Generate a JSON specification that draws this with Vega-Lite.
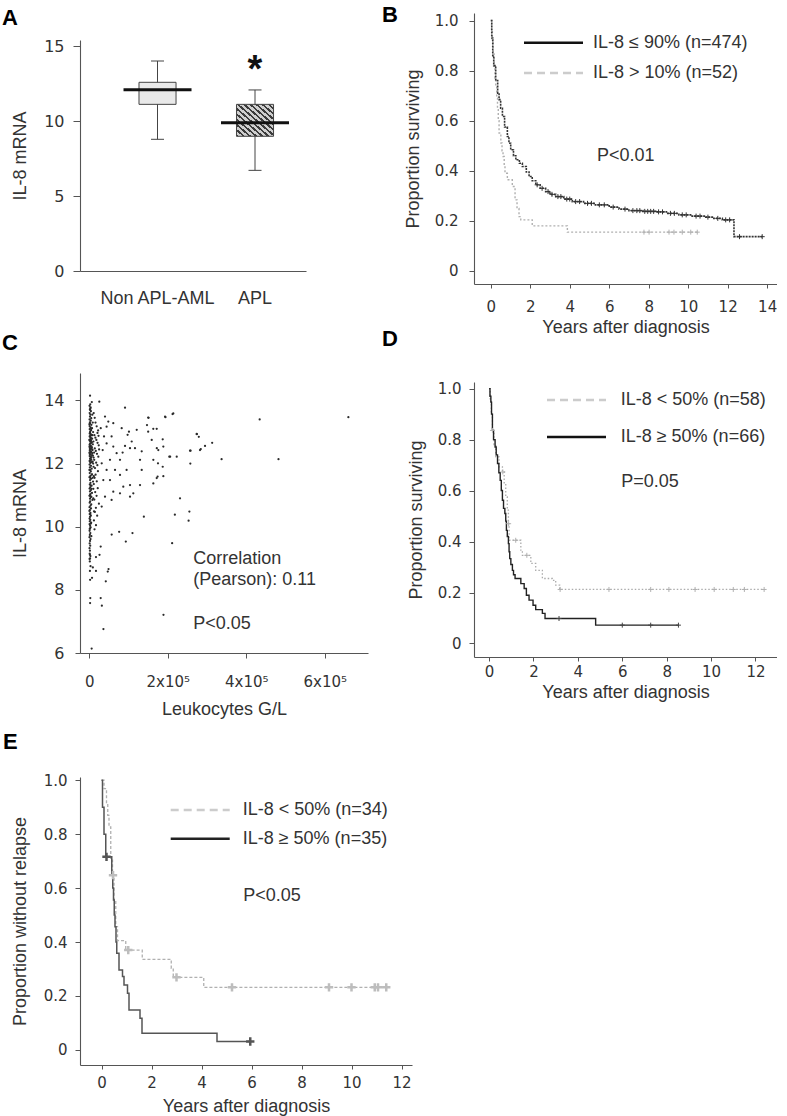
{
  "$schema": "https://vega.github.io/schema/vega-lite/v6.json",
  "background": "white",
  "padding": {"left": 2, "top": 0, "right": 0, "bottom": 0},
  "spacing": -30,
  "bounds": "full",
  "resolve": {"scale": {"color": "independent", "strokeDash": "independent"}, "legend": {"color": "independent", "strokeDash": "independent"}},
  "config": {
    "view": {"stroke": null},
    "axis": {"grid": false, "domainColor": "#555", "tickColor": "#555", "labelColor": "#333", "titleColor": "#333", "labelFont": "DejaVu Sans", "titleFont": "Liberation Sans", "titleFontWeight": "normal", "labelFontSize": 15, "titleFontSize": 18, "tickSize": 5, "domainWidth": 1.1},
    "legend": {"labelFont": "Liberation Sans", "labelColor": "#333", "labelFontSize": 18},
    "title": {"font": "Liberation Sans", "fontSize": 22, "fontWeight": "bold", "color": "#000", "anchor": "start", "frame": "group", "offset": 0}
  },
  "datasets": {
    "scatter": [
      {"wbc":1000,"il8":12.95},{"wbc":2500,"il8":12.88},{"wbc":4000,"il8":12.81},{"wbc":1500,"il8":12.76},{"wbc":3000,"il8":12.7},{"wbc":5500,"il8":12.66},{"wbc":800,"il8":12.6},{"wbc":2200,"il8":12.55},{"wbc":6500,"il8":12.52},{"wbc":3500,"il8":12.47},
      {"wbc":1200,"il8":12.42},{"wbc":4800,"il8":12.38},{"wbc":7500,"il8":12.33},{"wbc":2000,"il8":12.29},{"wbc":900,"il8":12.24},{"wbc":5200,"il8":12.2},{"wbc":3300,"il8":12.15},{"wbc":1700,"il8":12.1},{"wbc":8500,"il8":12.06},{"wbc":2700,"il8":12.02},
      {"wbc":600,"il8":11.97},{"wbc":4300,"il8":11.93},{"wbc":1400,"il8":11.88},{"wbc":6000,"il8":11.84},{"wbc":2400,"il8":11.79},{"wbc":3800,"il8":11.75},{"wbc":1100,"il8":11.7},{"wbc":7000,"il8":11.66},{"wbc":2900,"il8":11.61},{"wbc":500,"il8":11.57},
      {"wbc":4600,"il8":11.52},{"wbc":1900,"il8":11.48},{"wbc":9500,"il8":11.43},{"wbc":3100,"il8":11.39},{"wbc":1300,"il8":11.34},{"wbc":5800,"il8":11.3},{"wbc":2300,"il8":11.25},{"wbc":700,"il8":11.21},{"wbc":4100,"il8":11.16},{"wbc":1600,"il8":11.12},
      {"wbc":6800,"il8":11.07},{"wbc":2600,"il8":11.03},{"wbc":400,"il8":10.98},{"wbc":3600,"il8":10.94},{"wbc":1800,"il8":10.89},{"wbc":8000,"il8":10.85},{"wbc":2100,"il8":10.8},{"wbc":1000,"il8":10.76},{"wbc":5000,"il8":10.71},{"wbc":3000,"il8":10.67},
      {"wbc":600,"il8":10.62},{"wbc":4400,"il8":10.58},{"wbc":1500,"il8":10.53},{"wbc":12000,"il8":10.49},{"wbc":2800,"il8":10.44},{"wbc":900,"il8":10.4},{"wbc":3900,"il8":10.35},{"wbc":1700,"il8":10.31},{"wbc":600,"il8":10.26},{"wbc":2500,"il8":10.22},
      {"wbc":1200,"il8":10.17},{"wbc":4700,"il8":10.13},{"wbc":800,"il8":10.08},{"wbc":2000,"il8":10.03},{"wbc":3400,"il8":9.98},{"wbc":1100,"il8":9.93},{"wbc":700,"il8":9.87},{"wbc":2600,"il8":9.8},{"wbc":1400,"il8":9.74},{"wbc":500,"il8":9.67},
      {"wbc":3200,"il8":9.61},{"wbc":1900,"il8":9.55},{"wbc":900,"il8":9.47},{"wbc":2300,"il8":9.4},{"wbc":600,"il8":9.32},{"wbc":1600,"il8":9.24},{"wbc":1000,"il8":9.15},{"wbc":2800,"il8":9.07},{"wbc":700,"il8":8.98},{"wbc":1300,"il8":8.9},
      {"wbc":1800,"il8":12.98},{"wbc":3700,"il8":12.93},{"wbc":5900,"il8":12.9},{"wbc":900,"il8":12.86},{"wbc":2900,"il8":12.83},{"wbc":7200,"il8":12.79},{"wbc":4400,"il8":12.74},{"wbc":1300,"il8":12.72},{"wbc":6300,"il8":12.68},{"wbc":2100,"il8":12.64},
      {"wbc":9000,"il8":12.61},{"wbc":3900,"il8":12.57},{"wbc":500,"il8":12.54},{"wbc":5400,"il8":12.5},{"wbc":1600,"il8":12.46},{"wbc":8200,"il8":12.43},{"wbc":2600,"il8":12.39},{"wbc":4200,"il8":12.35},{"wbc":1000,"il8":12.31},{"wbc":6700,"il8":12.27},
      {"wbc":3200,"il8":12.23},{"wbc":11000,"il8":12.19},{"wbc":1900,"il8":12.16},{"wbc":5000,"il8":12.12},{"wbc":700,"il8":12.08},{"wbc":3500,"il8":12.04},{"wbc":9800,"il8":12.0},{"wbc":2300,"il8":13.02},{"wbc":4600,"il8":13.06},{"wbc":1100,"il8":13.09},
      {"wbc":6900,"il8":13.12},{"wbc":3100,"il8":13.15},{"wbc":800,"il8":13.19},{"wbc":5300,"il8":13.23},{"wbc":2000,"il8":13.27},{"wbc":1400,"il8":13.31},{"wbc":3600,"il8":13.36},{"wbc":700,"il8":13.4},{"wbc":4900,"il8":13.44},{"wbc":1700,"il8":13.49},
      {"wbc":2700,"il8":13.55},{"wbc":900,"il8":13.6},{"wbc":4100,"il8":13.66},{"wbc":1500,"il8":13.72},{"wbc":3300,"il8":13.78},{"wbc":600,"il8":13.83},{"wbc":2400,"il8":13.88},{"wbc":1900,"il8":14.15},{"wbc":2100,"il8":13.7},{"wbc":2800,"il8":13.75},
      {"wbc":13000,"il8":12.9},{"wbc":15500,"il8":12.82},{"wbc":18000,"il8":12.75},{"wbc":21000,"il8":12.66},{"wbc":24000,"il8":12.58},{"wbc":14000,"il8":12.48},{"wbc":16500,"il8":12.4},{"wbc":19500,"il8":12.31},{"wbc":23000,"il8":12.22},{"wbc":12500,"il8":12.12},
      {"wbc":17500,"il8":12.03},{"wbc":20500,"il8":11.95},{"wbc":14500,"il8":11.86},{"wbc":22000,"il8":11.76},{"wbc":16000,"il8":11.65},{"wbc":13500,"il8":11.55},{"wbc":19000,"il8":11.44},{"wbc":11500,"il8":11.35},{"wbc":21500,"il8":11.22},{"wbc":15000,"il8":11.1},
      {"wbc":18500,"il8":10.98},{"wbc":12800,"il8":10.86},{"wbc":24500,"il8":10.73},{"wbc":16800,"il8":10.6},{"wbc":14200,"il8":10.47},{"wbc":20000,"il8":10.35},{"wbc":11800,"il8":10.2},{"wbc":17000,"il8":10.05},{"wbc":13300,"il8":9.92},{"wbc":22500,"il8":13.05},
      {"wbc":18800,"il8":13.18},{"wbc":15800,"il8":13.3},{"wbc":13800,"il8":13.45},{"wbc":20800,"il8":12.97},{"wbc":23500,"il8":12.88},{"wbc":11200,"il8":13.6},{"wbc":25000,"il8":12.45},{"wbc":10500,"il8":12.7},{"wbc":12200,"il8":12.35},{"wbc":10800,"il8":11.9},
      {"wbc":11600,"il8":11.6},{"wbc":10300,"il8":11.2},{"wbc":10000,"il8":10.9},{"wbc":9700,"il8":13.0},{"wbc":8800,"il8":13.3},{"wbc":7800,"il8":12.9},{"wbc":7300,"il8":12.45},{"wbc":6600,"il8":12.05},{"wbc":6200,"il8":11.65},{"wbc":5600,"il8":11.2},
      {"wbc":5100,"il8":10.95},{"wbc":8700,"il8":11.55},{"wbc":9200,"il8":12.25},{"wbc":7700,"il8":13.55},{"wbc":6400,"il8":13.95},{"wbc":4500,"il8":13.1},{"wbc":3800,"il8":12.2},{"wbc":2200,"il8":11.55},{"wbc":1200,"il8":12.5},{"wbc":300,"il8":12.35},
      {"wbc":300,"il8":11.8},{"wbc":200,"il8":12.75},{"wbc":350,"il8":10.5},{"wbc":250,"il8":13.25},{"wbc":1800,"il8":11.0},{"wbc":2500,"il8":10.4},{"wbc":3400,"il8":11.3},{"wbc":4000,"il8":10.1},{"wbc":2000,"il8":9.95},{"wbc":5200,"il8":9.7},
      {"wbc":3100,"il8":8.75},{"wbc":1600,"il8":8.6},
      {"wbc":91000,"il8":13.77},{"wbc":25500,"il8":13.96},{"wbc":48400,"il8":13.33},{"wbc":61100,"il8":13.28},{"wbc":82500,"il8":13.12},{"wbc":101000,"il8":13.01},{"wbc":120800,"il8":13.07},{"wbc":150000,"il8":13.46},{"wbc":171700,"il8":13.1},{"wbc":193000,"il8":13.49},
      {"wbc":214000,"il8":13.59},{"wbc":273600,"il8":12.94},{"wbc":282000,"il8":12.43},{"wbc":294800,"il8":12.56},{"wbc":256600,"il8":12.41},{"wbc":257400,"il8":12.0},{"wbc":222700,"il8":12.22},{"wbc":203800,"il8":12.22},{"wbc":188600,"il8":12.54},{"wbc":175800,"il8":12.43},
      {"wbc":175000,"il8":12.01},{"wbc":187000,"il8":11.9},{"wbc":188600,"il8":11.6},{"wbc":163100,"il8":12.12},{"wbc":159000,"il8":12.75},{"wbc":150000,"il8":13.01},{"wbc":133500,"il8":12.39},{"wbc":129200,"il8":12.12},{"wbc":116400,"il8":12.49},{"wbc":103700,"il8":12.49},
      {"wbc":108000,"il8":12.7},{"wbc":97600,"il8":12.91},{"wbc":91000,"il8":12.56},{"wbc":84900,"il8":12.35},{"wbc":78200,"il8":12.12},{"wbc":69600,"il8":12.33},{"wbc":61100,"il8":12.54},{"wbc":56800,"il8":12.86},{"wbc":44100,"il8":12.64},{"wbc":52700,"il8":12.12},
      {"wbc":65500,"il8":11.8},{"wbc":78200,"il8":11.64},{"wbc":95000,"il8":11.8},{"wbc":86600,"il8":11.27},{"wbc":103700,"il8":11.32},{"wbc":129200,"il8":11.32},{"wbc":133500,"il8":11.8},{"wbc":171700,"il8":11.54},{"wbc":163100,"il8":11.37},{"wbc":78200,"il8":11.06},
      {"wbc":61100,"il8":11.11},{"wbc":52700,"il8":11.48},{"wbc":44100,"il8":11.8},{"wbc":35700,"il8":11.48},{"wbc":40000,"il8":10.95},{"wbc":56800,"il8":10.85},{"wbc":103700,"il8":10.95},{"wbc":112100,"il8":11.06},{"wbc":231100,"il8":10.9},{"wbc":31600,"il8":12.01},
      {"wbc":34100,"il8":12.43},{"wbc":37500,"il8":12.86},{"wbc":44100,"il8":13.17},{"wbc":29100,"il8":13.12},{"wbc":40000,"il8":13.49},{"wbc":31600,"il8":10.64},
      {"wbc":660000,"il8":13.47},{"wbc":434000,"il8":13.4},{"wbc":482000,"il8":12.14},{"wbc":337000,"il8":12.14},{"wbc":313000,"il8":12.66},{"wbc":284000,"il8":12.46},{"wbc":274000,"il8":12.93},{"wbc":279000,"il8":12.85},{"wbc":258000,"il8":12.41},{"wbc":212000,"il8":13.57},
      {"wbc":194000,"il8":13.47},{"wbc":255000,"il8":10.48},{"wbc":253000,"il8":10.19},{"wbc":218000,"il8":10.38},{"wbc":211000,"il8":9.48},{"wbc":189000,"il8":7.21},{"wbc":151000,"il8":13.45},{"wbc":163000,"il8":13.1},{"wbc":147000,"il8":13.22},{"wbc":187000,"il8":12.77},
      {"wbc":206000,"il8":12.22},{"wbc":172000,"il8":12.49},{"wbc":174000,"il8":11.59},{"wbc":139000,"il8":10.32},{"wbc":93000,"il8":9.53},{"wbc":110000,"il8":9.8},{"wbc":76000,"il8":9.84},
      {"wbc":6000,"il8":6.14},{"wbc":36000,"il8":6.76},{"wbc":2000,"il8":7.58},{"wbc":2500,"il8":7.74},{"wbc":29000,"il8":7.74},{"wbc":32000,"il8":7.5},{"wbc":42000,"il8":8.27},{"wbc":2000,"il8":8.32},{"wbc":7000,"il8":8.38},{"wbc":47000,"il8":8.58},
      {"wbc":49000,"il8":8.66},{"wbc":9000,"il8":8.71},{"wbc":17000,"il8":8.6},{"wbc":2000,"il8":9.0},{"wbc":1500,"il8":9.11},{"wbc":17000,"il8":9.04},{"wbc":26000,"il8":9.11},{"wbc":29000,"il8":9.37},{"wbc":57000,"il8":9.75}
    ],
    "b_dark": [
      {"t":0,"s":1},{"t":0.05,"s":0.93},{"t":0.1,"s":0.86},{"t":0.15,"s":0.82},{"t":0.25,"s":0.76},{"t":0.35,"s":0.71},{"t":0.42,"s":0.684},{"t":0.5,"s":0.65},{"t":0.59,"s":0.617},{"t":0.7,"s":0.575},
      {"t":0.84,"s":0.537},{"t":0.92,"s":0.51},{"t":1.01,"s":0.484},{"t":1.15,"s":0.46},{"t":1.27,"s":0.444},{"t":1.45,"s":0.43},{"t":1.6,"s":0.417},{"t":1.8,"s":0.395},{"t":1.94,"s":0.377},{"t":2.1,"s":0.36},
      {"t":2.28,"s":0.344},{"t":2.5,"s":0.33},{"t":2.78,"s":0.317},{"t":3.0,"s":0.306},{"t":3.29,"s":0.297},{"t":3.7,"s":0.287},{"t":4.13,"s":0.277},{"t":4.7,"s":0.27},{"t":5.3,"s":0.264},{"t":6.0,"s":0.255},
      {"t":6.5,"s":0.247},{"t":7.0,"s":0.241},{"t":7.7,"s":0.238},{"t":8.35,"s":0.236},{"t":8.9,"s":0.23},{"t":9.53,"s":0.224},{"t":10.2,"s":0.219},{"t":10.89,"s":0.215},{"t":11.3,"s":0.21},{"t":11.73,"s":0.204},
      {"t":12.32,"s":0.137},{"t":13.75,"s":0.137}
    ],
    "b_light": [
      {"t":0,"s":1},{"t":0.04,"s":0.96},{"t":0.08,"s":0.924},{"t":0.12,"s":0.87},{"t":0.17,"s":0.817},{"t":0.21,"s":0.77},{"t":0.25,"s":0.737},{"t":0.3,"s":0.69},{"t":0.34,"s":0.644},{"t":0.38,"s":0.6},
      {"t":0.42,"s":0.551},{"t":0.51,"s":0.511},{"t":0.57,"s":0.48},{"t":0.62,"s":0.457},{"t":0.68,"s":0.42},{"t":0.72,"s":0.39},{"t":0.84,"s":0.364},{"t":1.09,"s":0.337},{"t":1.23,"s":0.284},{"t":1.33,"s":0.25},
      {"t":1.43,"s":0.217},{"t":1.52,"s":0.204},{"t":2.1,"s":0.18},{"t":3.88,"s":0.155},{"t":10.46,"s":0.155}
    ],
    "b_cens_d": [
      {"t":2.35,"s":0.344},{"t":2.6,"s":0.33},{"t":2.9,"s":0.317},{"t":3.1,"s":0.306},{"t":3.4,"s":0.297},{"t":3.55,"s":0.297},{"t":3.85,"s":0.287},{"t":4.0,"s":0.287},{"t":4.3,"s":0.277},{"t":4.5,"s":0.277},
      {"t":4.9,"s":0.27},{"t":5.1,"s":0.27},{"t":5.5,"s":0.264},{"t":5.75,"s":0.264},{"t":6.2,"s":0.255},{"t":6.8,"s":0.247},{"t":7.2,"s":0.241},{"t":7.4,"s":0.241},{"t":7.55,"s":0.241},{"t":7.8,"s":0.238},
      {"t":7.95,"s":0.238},{"t":8.1,"s":0.238},{"t":8.25,"s":0.238},{"t":8.5,"s":0.236},{"t":8.7,"s":0.236},{"t":9.1,"s":0.23},{"t":9.3,"s":0.23},{"t":9.7,"s":0.224},{"t":9.9,"s":0.224},{"t":10.4,"s":0.219},
      {"t":10.6,"s":0.219},{"t":11.0,"s":0.215},{"t":11.5,"s":0.21},{"t":11.9,"s":0.204},{"t":12.1,"s":0.204},{"t":12.6,"s":0.137},{"t":13.75,"s":0.137}
    ],
    "b_cens_l": [
      {"t":7.76,"s":0.155},{"t":8.02,"s":0.155},{"t":9.03,"s":0.155},{"t":9.28,"s":0.155},{"t":9.7,"s":0.155},{"t":10.13,"s":0.155},{"t":10.46,"s":0.155}
    ],
    "d_dark": [
      {"t":0,"s":1},{"t":0.04,"s":0.97},{"t":0.08,"s":0.947},{"t":0.11,"s":0.9},{"t":0.15,"s":0.836},{"t":0.2,"s":0.8},{"t":0.27,"s":0.771},{"t":0.32,"s":0.74},{"t":0.38,"s":0.706},{"t":0.44,"s":0.67},
      {"t":0.5,"s":0.64},{"t":0.55,"s":0.6},{"t":0.6,"s":0.562},{"t":0.65,"s":0.53},{"t":0.71,"s":0.51},{"t":0.75,"s":0.48},{"t":0.78,"s":0.444},{"t":0.82,"s":0.42},{"t":0.87,"s":0.392},{"t":0.9,"s":0.36},
      {"t":0.93,"s":0.333},{"t":0.98,"s":0.31},{"t":1.05,"s":0.287},{"t":1.1,"s":0.27},{"t":1.17,"s":0.255},{"t":1.43,"s":0.235},{"t":1.58,"s":0.216},{"t":1.68,"s":0.189},{"t":1.8,"s":0.17},{"t":1.98,"s":0.15},
      {"t":2.1,"s":0.133},{"t":2.4,"s":0.118},{"t":2.52,"s":0.098},{"t":4.8,"s":0.072},{"t":8.53,"s":0.072}
    ],
    "d_light": [
      {"t":0,"s":1},{"t":0.05,"s":0.95},{"t":0.1,"s":0.9},{"t":0.15,"s":0.836},{"t":0.22,"s":0.78},{"t":0.3,"s":0.732},{"t":0.45,"s":0.693},{"t":0.6,"s":0.673},{"t":0.68,"s":0.627},{"t":0.75,"s":0.575},
      {"t":0.82,"s":0.523},{"t":0.87,"s":0.47},{"t":0.9,"s":0.405},{"t":1.43,"s":0.366},{"t":1.5,"s":0.346},{"t":1.88,"s":0.314},{"t":2.1,"s":0.287},{"t":2.4,"s":0.255},{"t":2.85,"s":0.248},{"t":3.0,"s":0.229},
      {"t":3.18,"s":0.212},{"t":12.39,"s":0.212}
    ],
    "d_cens_d": [
      {"t":3.15,"s":0.098},{"t":6.0,"s":0.072},{"t":7.28,"s":0.072},{"t":8.53,"s":0.072}
    ],
    "d_cens_l": [
      {"t":0.15,"s":0.836},{"t":0.62,"s":0.673},{"t":0.88,"s":0.47},{"t":1.2,"s":0.405},{"t":1.7,"s":0.346},{"t":3.2,"s":0.212},{"t":5.4,"s":0.212},{"t":7.28,"s":0.212},{"t":8.1,"s":0.212},{"t":9.28,"s":0.212},
      {"t":10.14,"s":0.212},{"t":11.0,"s":0.212},{"t":11.5,"s":0.212},{"t":12.39,"s":0.212}
    ],
    "e_dark": [
      {"t":0,"s":1},{"t":0.04,"s":0.9},{"t":0.1,"s":0.8},{"t":0.17,"s":0.716},{"t":0.41,"s":0.654},{"t":0.45,"s":0.6},{"t":0.48,"s":0.556},{"t":0.51,"s":0.5},{"t":0.54,"s":0.457},{"t":0.58,"s":0.4},
      {"t":0.61,"s":0.358},{"t":0.7,"s":0.296},{"t":0.84,"s":0.272},{"t":0.9,"s":0.241},{"t":1.04,"s":0.21},{"t":1.1,"s":0.148},{"t":1.54,"s":0.117},{"t":1.62,"s":0.062},{"t":4.62,"s":0.031},{"t":5.95,"s":0.031}
    ],
    "e_light": [
      {"t":0,"s":1},{"t":0.1,"s":0.969},{"t":0.2,"s":0.914},{"t":0.25,"s":0.87},{"t":0.3,"s":0.827},{"t":0.37,"s":0.704},{"t":0.44,"s":0.648},{"t":0.5,"s":0.556},{"t":0.57,"s":0.457},{"t":0.64,"s":0.405},
      {"t":0.97,"s":0.37},{"t":1.63,"s":0.336},{"t":2.79,"s":0.302},{"t":2.87,"s":0.269},{"t":4.09,"s":0.232},{"t":11.39,"s":0.232}
    ],
    "e_cens_d": [
      {"t":0.2,"s":0.716},{"t":5.95,"s":0.031}
    ],
    "e_cens_l": [
      {"t":0.46,"s":0.648},{"t":1.07,"s":0.37},{"t":3.0,"s":0.269},{"t":5.22,"s":0.232},{"t":9.1,"s":0.232},{"t":10.0,"s":0.232},{"t":10.93,"s":0.232},{"t":11.06,"s":0.232},{"t":11.39,"s":0.232}
    ]
  },
  "hconcat": [
    {
      "spacing": 0,
      "bounds": "flush",
      "resolve": {"scale": {"color": "independent", "strokeDash": "independent"}, "legend": {"color": "independent", "strokeDash": "independent"}},
      "vconcat": [
        {"width": 1, "height": 40, "data": {"values": []}, "mark": {"type": "point", "opacity": 0}},
        {
          "title": {"text": "A", "dx": -78, "dy": -4},
          "width": 226, "height": 231,
          "data": {"values": [
            {"grp": "Non APL-AML", "lo": 8.78, "q1": 11.11, "med": 12.09, "q3": 12.58, "hi": 14.0},
            {"grp": "APL", "lo": 6.71, "q1": 8.98, "med": 9.89, "q3": 11.11, "hi": 12.07}
          ]},
          "encoding": {
            "x": {"field": "grp", "type": "nominal", "sort": null,
              "scale": {"domain": ["Non APL-AML", "APL"], "paddingInner": 0.62, "paddingOuter": 0.469, "align": 0.645},
              "axis": {"title": null, "ticks": false, "tickSize": 0, "labelAngle": 0, "labelFont": "Liberation Sans", "labelFontSize": 18, "labelPadding": 18, "labelDx": 8}}
          },
          "layer": [
            {"mark": {"type": "rule", "color": "#444", "strokeWidth": 1},
             "encoding": {
               "y": {"field": "lo", "type": "quantitative", "title": "IL-8 mRNA", "scale": {"domain": [0, 15.4], "nice": false},
                 "axis": {"values": [0, 5, 10, 15], "tickSize": 7, "labelPadding": 9, "labelFontSize": 16, "titlePadding": 14}},
               "y2": {"field": "hi"}}},
            {"mark": {"type": "tick", "color": "#444", "size": 13, "thickness": 1, "opacity": 1},
             "encoding": {"y": {"field": "lo", "type": "quantitative", "title": "IL-8 mRNA"}}},
            {"mark": {"type": "tick", "color": "#444", "size": 13, "thickness": 1, "opacity": 1},
             "encoding": {"y": {"field": "hi", "type": "quantitative", "title": "IL-8 mRNA"}}},
            {"transform": [{"filter": "datum.grp === 'Non APL-AML'"}],
             "mark": {"type": "bar", "fill": "#e9e9e9", "stroke": "#444", "strokeWidth": 1, "opacity": 1},
             "encoding": {"y": {"field": "q1", "type": "quantitative", "title": "IL-8 mRNA"}, "y2": {"field": "q3"}}},
            {"transform": [{"filter": "datum.grp === 'APL'"}],
             "mark": {"type": "bar", "stroke": "#444", "strokeWidth": 1, "opacity": 1,
               "fill": {"gradient": "linear", "x1": 0, "y1": 1, "x2": 1, "y2": 0, "stops": [
                 {"offset": 0, "color": "#3c3c3c"}, {"offset": 0.035, "color": "#3c3c3c"}, {"offset": 0.035, "color": "#cfcfcf"}, {"offset": 0.083, "color": "#cfcfcf"},
                 {"offset": 0.083, "color": "#3c3c3c"}, {"offset": 0.118, "color": "#3c3c3c"}, {"offset": 0.118, "color": "#cfcfcf"}, {"offset": 0.167, "color": "#cfcfcf"},
                 {"offset": 0.167, "color": "#3c3c3c"}, {"offset": 0.202, "color": "#3c3c3c"}, {"offset": 0.202, "color": "#cfcfcf"}, {"offset": 0.25, "color": "#cfcfcf"},
                 {"offset": 0.25, "color": "#3c3c3c"}, {"offset": 0.285, "color": "#3c3c3c"}, {"offset": 0.285, "color": "#cfcfcf"}, {"offset": 0.333, "color": "#cfcfcf"},
                 {"offset": 0.333, "color": "#3c3c3c"}, {"offset": 0.368, "color": "#3c3c3c"}, {"offset": 0.368, "color": "#cfcfcf"}, {"offset": 0.417, "color": "#cfcfcf"},
                 {"offset": 0.417, "color": "#3c3c3c"}, {"offset": 0.452, "color": "#3c3c3c"}, {"offset": 0.452, "color": "#cfcfcf"}, {"offset": 0.5, "color": "#cfcfcf"},
                 {"offset": 0.5, "color": "#3c3c3c"}, {"offset": 0.535, "color": "#3c3c3c"}, {"offset": 0.535, "color": "#cfcfcf"}, {"offset": 0.583, "color": "#cfcfcf"},
                 {"offset": 0.583, "color": "#3c3c3c"}, {"offset": 0.618, "color": "#3c3c3c"}, {"offset": 0.618, "color": "#cfcfcf"}, {"offset": 0.667, "color": "#cfcfcf"},
                 {"offset": 0.667, "color": "#3c3c3c"}, {"offset": 0.702, "color": "#3c3c3c"}, {"offset": 0.702, "color": "#cfcfcf"}, {"offset": 0.75, "color": "#cfcfcf"},
                 {"offset": 0.75, "color": "#3c3c3c"}, {"offset": 0.785, "color": "#3c3c3c"}, {"offset": 0.785, "color": "#cfcfcf"}, {"offset": 0.833, "color": "#cfcfcf"},
                 {"offset": 0.833, "color": "#3c3c3c"}, {"offset": 0.868, "color": "#3c3c3c"}, {"offset": 0.868, "color": "#cfcfcf"}, {"offset": 0.917, "color": "#cfcfcf"},
                 {"offset": 0.917, "color": "#3c3c3c"}, {"offset": 0.952, "color": "#3c3c3c"}, {"offset": 0.952, "color": "#cfcfcf"}, {"offset": 1, "color": "#cfcfcf"}
               ]}},
             "encoding": {"y": {"field": "q1", "type": "quantitative", "title": "IL-8 mRNA"}, "y2": {"field": "q3"}}},
            {"mark": {"type": "tick", "color": "#111", "size": 68, "thickness": 3, "opacity": 1},
             "encoding": {"y": {"field": "med", "type": "quantitative", "title": "IL-8 mRNA"}}},
            {"data": {"values": [{"label": "*"}]},
             "mark": {"type": "text", "font": "Liberation Sans", "fontSize": 38, "fontWeight": "bold", "color": "#111", "baseline": "alphabetic", "align": "center"},
             "encoding": {"x": {"datum": "APL"}, "y": {"datum": 12.6}, "text": {"field": "label"}}}
          ]
        },
        {"width": 1, "height": 102, "data": {"values": []}, "mark": {"type": "point", "opacity": 0}},
        {
          "title": {"text": "C", "dx": -78, "dy": -14},
          "width": 288, "height": 280,
          "layer": [
            {"data": {"name": "scatter"},
             "mark": {"type": "circle", "size": 5, "color": "#2a2a2a", "opacity": 1},
             "encoding": {
               "x": {"field": "wbc", "type": "quantitative", "title": "Leukocytes G/L", "scale": {"domain": [-23700, 710000], "nice": false, "zero": false},
                 "axis": {"values": [0, 200000, 400000, 600000], "labelExpr": "datum.value == 0 ? '0' : (datum.value / 100000) + 'x10⁵'", "tickSize": 5, "labelPadding": 16.5, "titlePadding": 11}},
               "y": {"field": "il8", "type": "quantitative", "title": "IL-8 mRNA", "scale": {"domain": [6, 14.87], "nice": false, "zero": false},
                 "axis": {"values": [6, 8, 10, 12, 14], "tickSize": 5, "labelPadding": 11, "labelFontSize": 16, "titlePadding": 14}}
             }},
            {"data": {"values": [{"label": ["Correlation", "(Pearson): 0.11"]}]},
             "mark": {"type": "text", "font": "Liberation Sans", "fontSize": 18, "lineHeight": 21.6, "color": "#333", "align": "left", "baseline": "middle"},
             "encoding": {"x": {"datum": 265000}, "y": {"datum": 8.99}, "text": {"field": "label"}}},
            {"data": {"values": [{"label": "P<0.05"}]},
             "mark": {"type": "text", "font": "Liberation Sans", "fontSize": 18, "color": "#333", "align": "left", "baseline": "middle"},
             "encoding": {"x": {"datum": 265000}, "y": {"datum": 6.93}, "text": {"field": "label"}}}
          ]
        },
        {"width": 1, "height": 124, "data": {"values": []}, "mark": {"type": "point", "opacity": 0}},
        {
          "title": {"text": "E", "dx": -77, "dy": -15.2},
          "width": 332, "height": 288,
          "layer": [
            {"data": {"name": "e_light"},
             "mark": {"type": "line", "interpolate": "step-after", "strokeWidth": 1.3, "color": "#b0b0b0", "strokeDash": [3, 2]},
             "encoding": {
               "x": {"field": "t", "type": "quantitative", "title": "Years after diagnosis", "scale": {"domain": [-0.86, 12.42], "nice": false, "zero": false},
                 "axis": {"values": [0, 2, 4, 6, 8, 10, 12], "tickSize": 4, "labelPadding": 6.3, "titlePadding": 7}},
               "y": {"field": "s", "type": "quantitative", "title": "Proportion without relapse", "scale": {"domain": [-0.056, 1.012], "nice": false, "zero": false},
                 "axis": {"values": [0, 0.2, 0.4, 0.6, 0.8, 1], "labelExpr": "datum.value == 0 ? '0' : format(datum.value, '.1f')", "tickSize": 5, "labelPadding": 8, "titlePadding": 14}}
             }},
            {"data": {"name": "e_dark"},
             "mark": {"type": "line", "interpolate": "step-after", "strokeWidth": 1.5, "color": "#555555"},
             "encoding": {"x": {"field": "t", "type": "quantitative", "title": "Years after diagnosis"}, "y": {"field": "s", "type": "quantitative", "title": "Proportion without relapse"}}},
            {"data": {"name": "e_cens_d"},
             "mark": {"type": "point", "shape": "M-1,0H1M0,-1V1", "size": 70, "stroke": "#555", "strokeWidth": 2.5, "filled": false, "opacity": 1},
             "encoding": {"x": {"field": "t", "type": "quantitative", "title": "Years after diagnosis"}, "y": {"field": "s", "type": "quantitative", "title": "Proportion without relapse"}}},
            {"data": {"name": "e_cens_l"},
             "mark": {"type": "point", "shape": "M-1,0H1M0,-1V1", "size": 70, "stroke": "#bdbdbd", "strokeWidth": 2.5, "filled": false, "opacity": 1},
             "encoding": {"x": {"field": "t", "type": "quantitative", "title": "Years after diagnosis"}, "y": {"field": "s", "type": "quantitative", "title": "Proportion without relapse"}}},
            {"data": {"values": []},
             "mark": {"type": "line"},
             "encoding": {
               "x": {"field": "t", "type": "quantitative", "title": "Years after diagnosis"}, "y": {"field": "s", "type": "quantitative", "title": "Proportion without relapse"},
               "color": {"field": "g", "type": "nominal", "scale": {"domain": ["IL-8 < 50% (n=34)", "IL-8 ≥ 50% (n=35)"], "range": ["#cccccc", "#222222"]},
                 "legend": {"title": null, "orient": "none", "legendX": 89.2, "legendY": 25, "padding": 0, "symbolType": "stroke", "symbolSize": 3481, "symbolStrokeWidth": 2.5, "clipHeight": 16, "rowPadding": 10.7, "labelOffset": 11.5}},
               "strokeDash": {"field": "g", "type": "nominal", "scale": {"domain": ["IL-8 < 50% (n=34)", "IL-8 ≥ 50% (n=35)"], "range": [[8, 5], [1, 0]]},
                 "legend": {"title": null, "orient": "none", "legendX": 89.2, "legendY": 25, "padding": 0, "symbolType": "stroke", "symbolSize": 3481, "symbolStrokeWidth": 2.5, "clipHeight": 16, "rowPadding": 10.7, "labelOffset": 11.5}}
             }},
            {"data": {"values": [{"label": "P<0.05"}]},
             "mark": {"type": "text", "font": "Liberation Sans", "fontSize": 18, "color": "#333", "align": "left", "baseline": "middle"},
             "encoding": {"x": {"datum": 5.67}, "y": {"datum": 0.571}, "text": {"field": "label"}}}
          ]
        }
      ]
    },
    {
      "spacing": 0,
      "bounds": "flush",
      "resolve": {"scale": {"color": "independent", "strokeDash": "independent"}, "legend": {"color": "independent", "strokeDash": "independent"}},
      "vconcat": [
        {"width": 1, "height": 13, "data": {"values": []}, "mark": {"type": "point", "opacity": 0}},
        {
          "title": {"text": "B", "dx": -92, "dy": 18},
          "width": 303, "height": 271,
          "layer": [
            {"data": {"name": "b_light"},
             "mark": {"type": "line", "interpolate": "step-after", "strokeWidth": 1.4, "color": "#b0b0b0", "strokeDash": [2, 2]},
             "encoding": {
               "x": {"field": "t", "type": "quantitative", "title": "Years after diagnosis", "scale": {"domain": [-0.85, 14.5], "nice": false, "zero": false},
                 "axis": {"values": [0, 2, 4, 6, 8, 10, 12, 14], "tickSize": 4, "labelPadding": 11.5, "titlePadding": 4}},
               "y": {"field": "s", "type": "quantitative", "title": "Proportion surviving", "scale": {"domain": [-0.052, 1.03], "nice": false, "zero": false},
                 "axis": {"values": [0, 0.2, 0.4, 0.6, 0.8, 1], "labelExpr": "datum.value == 0 ? '0' : format(datum.value, '.1f')", "tickSize": 5, "labelPadding": 11, "titlePadding": 12}}
             }},
            {"data": {"name": "b_dark"},
             "mark": {"type": "line", "interpolate": "step-after", "strokeWidth": 1.6, "color": "#333333", "strokeDash": [2, 1]},
             "encoding": {"x": {"field": "t", "type": "quantitative", "title": "Years after diagnosis"}, "y": {"field": "s", "type": "quantitative", "title": "Proportion surviving"}}},
            {"data": {"name": "b_cens_d"},
             "mark": {"type": "point", "shape": "M-1,0H1M0,-1V1", "size": 25, "stroke": "#333", "strokeWidth": 1, "filled": false, "opacity": 1},
             "encoding": {"x": {"field": "t", "type": "quantitative", "title": "Years after diagnosis"}, "y": {"field": "s", "type": "quantitative", "title": "Proportion surviving"}}},
            {"data": {"name": "b_cens_l"},
             "mark": {"type": "point", "shape": "M-1,0H1M0,-1V1", "size": 25, "stroke": "#b0b0b0", "strokeWidth": 1, "filled": false, "opacity": 1},
             "encoding": {"x": {"field": "t", "type": "quantitative", "title": "Years after diagnosis"}, "y": {"field": "s", "type": "quantitative", "title": "Proportion surviving"}}},
            {"data": {"values": []},
             "mark": {"type": "line"},
             "encoding": {
               "x": {"field": "t", "type": "quantitative", "title": "Years after diagnosis"}, "y": {"field": "s", "type": "quantitative", "title": "Proportion surviving"},
               "color": {"field": "g", "type": "nominal", "scale": {"domain": ["IL-8 ≤ 90% (n=474)", "IL-8 > 10% (n=52)"], "range": ["#111111", "#cccccc"]},
                 "legend": {"title": null, "orient": "none", "legendX": 48.5, "legendY": 21.7, "padding": 0, "symbolType": "stroke", "symbolSize": 3481, "symbolStrokeWidth": 2.5, "clipHeight": 16, "rowPadding": 12.3, "labelOffset": 8.5}},
               "strokeDash": {"field": "g", "type": "nominal", "scale": {"domain": ["IL-8 ≤ 90% (n=474)", "IL-8 > 10% (n=52)"], "range": [[1, 0], [8, 5]]},
                 "legend": {"title": null, "orient": "none", "legendX": 48.5, "legendY": 21.7, "padding": 0, "symbolType": "stroke", "symbolSize": 3481, "symbolStrokeWidth": 2.5, "clipHeight": 16, "rowPadding": 12.3, "labelOffset": 8.5}}
             }},
            {"data": {"values": [{"label": "P<0.01"}]},
             "mark": {"type": "text", "font": "Liberation Sans", "fontSize": 18, "color": "#333", "align": "left", "baseline": "middle"},
             "encoding": {"x": {"datum": 5.38}, "y": {"datum": 0.46}, "text": {"field": "label"}}}
          ]
        },
        {"width": 1, "height": 98, "data": {"values": []}, "mark": {"type": "point", "opacity": 0}},
        {
          "title": {"text": "D", "dx": -92, "dy": -26.6},
          "width": 303, "height": 275,
          "layer": [
            {"data": {"name": "d_light"},
             "mark": {"type": "line", "interpolate": "step-after", "strokeWidth": 1.3, "color": "#ababab", "strokeDash": [1.5, 2]},
             "encoding": {
               "x": {"field": "t", "type": "quantitative", "title": "Years after diagnosis", "scale": {"domain": [-0.68, 12.97], "nice": false, "zero": false},
                 "axis": {"values": [0, 2, 4, 6, 8, 10, 12], "tickSize": 4, "labelPadding": 3.4, "titlePadding": 4}},
               "y": {"field": "s", "type": "quantitative", "title": "Proportion surviving", "scale": {"domain": [-0.053, 1.026], "nice": false, "zero": false},
                 "axis": {"values": [0, 0.2, 0.4, 0.6, 0.8, 1], "labelExpr": "datum.value == 0 ? '0' : format(datum.value, '.1f')", "tickSize": 5, "labelPadding": 8, "titlePadding": 12}}
             }},
            {"data": {"name": "d_dark"},
             "mark": {"type": "line", "interpolate": "step-after", "strokeWidth": 1.4, "color": "#222222"},
             "encoding": {"x": {"field": "t", "type": "quantitative", "title": "Years after diagnosis"}, "y": {"field": "s", "type": "quantitative", "title": "Proportion surviving"}}},
            {"data": {"name": "d_cens_d"},
             "mark": {"type": "point", "shape": "M-1,0H1M0,-1V1", "size": 25, "stroke": "#444", "strokeWidth": 1, "filled": false, "opacity": 1},
             "encoding": {"x": {"field": "t", "type": "quantitative", "title": "Years after diagnosis"}, "y": {"field": "s", "type": "quantitative", "title": "Proportion surviving"}}},
            {"data": {"name": "d_cens_l"},
             "mark": {"type": "point", "shape": "M-1,0H1M0,-1V1", "size": 25, "stroke": "#b0b0b0", "strokeWidth": 1, "filled": false, "opacity": 1},
             "encoding": {"x": {"field": "t", "type": "quantitative", "title": "Years after diagnosis"}, "y": {"field": "s", "type": "quantitative", "title": "Proportion surviving"}}},
            {"data": {"values": []},
             "mark": {"type": "line"},
             "encoding": {
               "x": {"field": "t", "type": "quantitative", "title": "Years after diagnosis"}, "y": {"field": "s", "type": "quantitative", "title": "Proportion surviving"},
               "color": {"field": "g", "type": "nominal", "scale": {"domain": ["IL-8 < 50% (n=58)", "IL-8 ≥ 50% (n=66)"], "range": ["#cccccc", "#111111"]},
                 "legend": {"title": null, "orient": "none", "legendX": 71.5, "legendY": 10, "padding": 0, "symbolType": "stroke", "symbolSize": 3481, "symbolStrokeWidth": 2.5, "clipHeight": 16, "rowPadding": 19, "labelOffset": 13.2}},
               "strokeDash": {"field": "g", "type": "nominal", "scale": {"domain": ["IL-8 < 50% (n=58)", "IL-8 ≥ 50% (n=66)"], "range": [[8, 5], [1, 0]]},
                 "legend": {"title": null, "orient": "none", "legendX": 71.5, "legendY": 10, "padding": 0, "symbolType": "stroke", "symbolSize": 3481, "symbolStrokeWidth": 2.5, "clipHeight": 16, "rowPadding": 19, "labelOffset": 13.2}}
             }},
            {"data": {"values": [{"label": "P=0.05"}]},
             "mark": {"type": "text", "font": "Liberation Sans", "fontSize": 18, "color": "#333", "align": "left", "baseline": "middle"},
             "encoding": {"x": {"datum": 5.95}, "y": {"datum": 0.632}, "text": {"field": "label"}}}
          ]
        }
      ]
    }
  ]
}
